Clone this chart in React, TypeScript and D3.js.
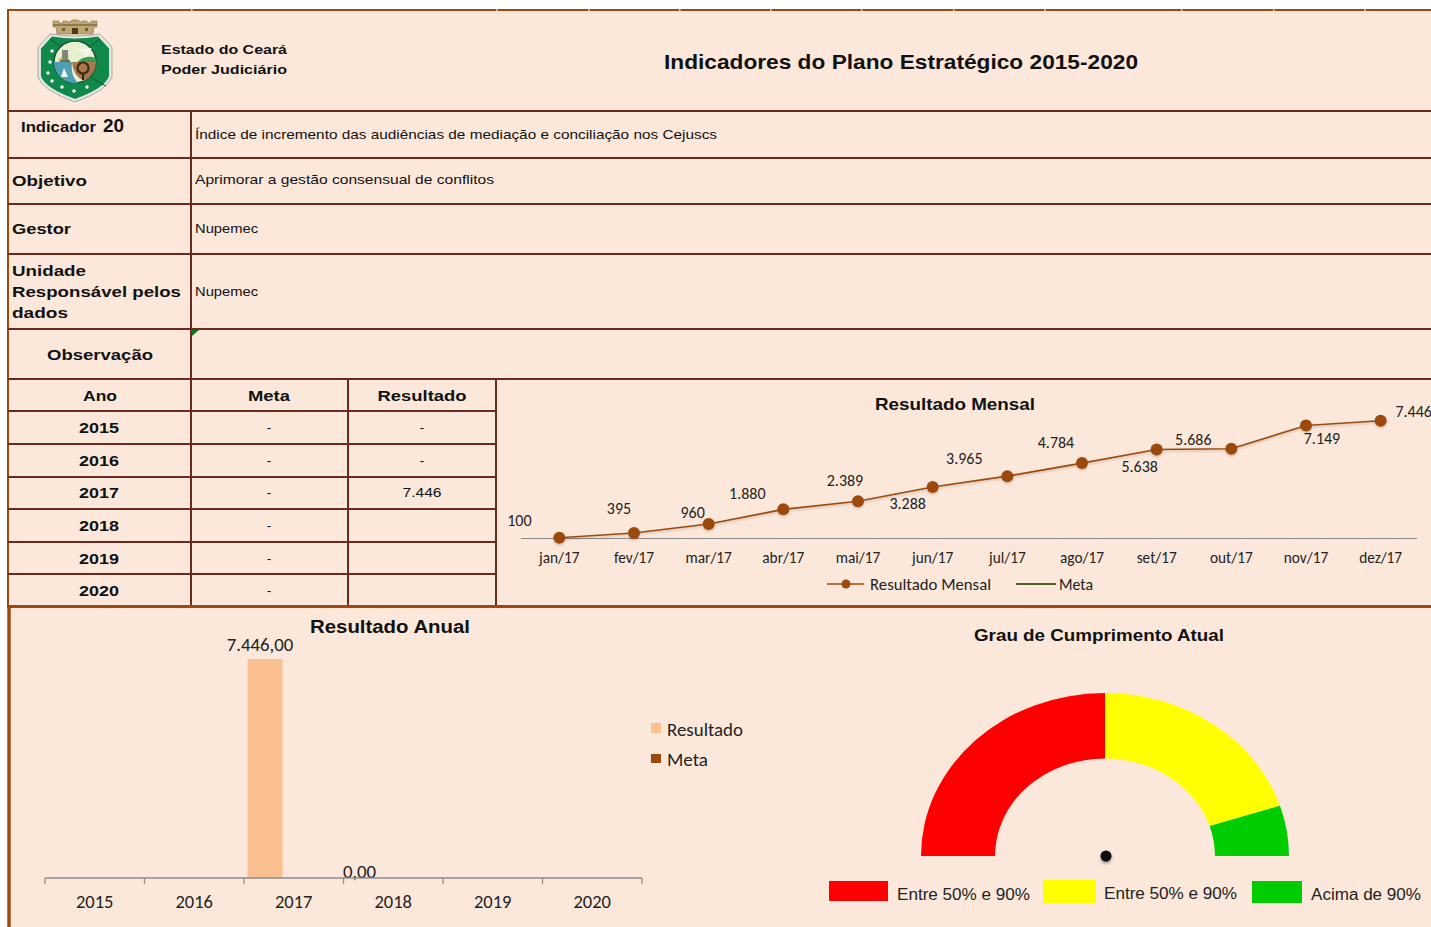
import React from "react";
import * as d3 from "d3";

const months = ["jan/17","fev/17","mar/17","abr/17","mai/17","jun/17","jul/17","ago/17","set/17","out/17","nov/17","dez/17"];
const monthlyValues = [100,395,960,1880,2389,3288,3965,4784,5638,5686,7149,7446];
const monthlyLabels = ["100","395","960","1.880","2.389","3.288","3.965","4.784","5.638","5.686","7.149","7.446"];
const years = ["2015","2016","2017","2018","2019","2020"];
const annualResult: (number|null)[] = [null,null,7446,0,null,null];
const annualLabels = ["","","7.446,00","0,00","",""];
const tableMeta = ["-","-","-","-","-","-"];
const tableResult = ["-","-","7.446","","",""];
const gaugeValues = [50,40,10];
const gaugeColors = ["#ff0000","#ffff00","#00cc00"];
const gaugeLegend = ["Entre 50% e 90%","Entre 50% e 90%","Acima de 90%"];

const BG = "#fce8da", LINE = "#6b2a20", BROWN = "#9c4a0c", ORANGE = "#fac090";
const ARIAL = "'Liberation Sans', Arial, sans-serif";
const LATO = "Carlito, Lato, sans-serif";

const T = ({x,y,s=14,b=false,a="start",f=ARIAL,c="#111",w,ch}:any)=>(
  <text x={x} y={y+0.3} fontSize={s} fontWeight={b?700:400} textAnchor={a} fontFamily={f} fill={c} dominantBaseline="central"
    {...(w?{textLength:w,lengthAdjust:"spacingAndGlyphs"}:{})}>{ch}</text>
);

const labelOffsets: [number,number][] = [[-40,-18],[-15,-25],[-16,-12],[-36,-16],[-13,-21],[-25,16],[-43,-18],[-26,-21],[-17,17],[-38,-10],[16,13],[33,-10]];
const hLines = [[111,1431],[158,1431],[204,1431],[254,1431],[329,1431],[379,1431]];
const tableLines = [411,444,477,509,542,574];
const topTicks = [191,496,588,679,770,861,953,1044,1181,1273,1364];

function Crest(){
  const shield = "M50,34 Q75,38 100,34 L112,47 L112,77 Q108,90 75,102 Q42,90 38,77 L38,47 Z";
  return <g>
    <path d={shield} fill="#e6e6e3" stroke="#aaa9a4" strokeWidth={1}/>
    <path d={shield} fill="#10894a" transform="translate(75,66) scale(.92) translate(-75,-66)"/>
    <path d="M50,39 L63,48 M100,39 L88,48 M88,76 L106,86" stroke="#0a5a30" strokeWidth={1} fill="none"/>
    <path d="M57,34 L56,27 L53,27 L53,21 L59,21 L59,23 L63,23 L63,21 L68,21 L68,23 L72,20 L78,20 L82,23 L82,21 L87,21 L87,23 L91,23 L91,21 L97,21 L97,27 L94,27 L93,34 Z" fill="#bda873" stroke="#8a7445" strokeWidth={.6}/>
    <rect x={53} y={24} width={44} height={2} fill="#8f7b4a"/>
    <rect x={72} y={28} width={6} height={6} fill="#4a3a22"/>
    <rect x={62} y={28} width={3} height={3} fill="#6f5d35"/>
    <rect x={85} y={28} width={3} height={3} fill="#6f5d35"/>
    <circle cx={75} cy={62} r={21} fill="#e6efcf" stroke="#14503a" strokeWidth={1.4}/>
    <path d="M77,62 Q86,54 95.5,58 Q96,60 96,62 Z" fill="#3f9a54"/>
    <circle cx={64} cy={62} r={6} fill="#f5c542"/>
    <path d="M54,62 L72,62 Q70,75 78,83 A21,21 0 0 1 54,62 Z" fill="#4f9fb2"/>
    <path d="M72,62 L96,62 A21,21 0 0 1 84,81 Q73,76 72,62 Z" fill="#a9774f"/>
    <circle cx={83} cy={68} r={5.5} fill="none" stroke="#3d2a18" strokeWidth={2.2}/>
    <rect x={82} y={73} width={2} height={7} fill="#3d2a18"/>
    <path d="M61,77 L64,68 L68,77 Z" fill="#f4f4ee"/>
    <rect x={62} y={50} width={6} height={12} fill="#85857a"/>
    <rect x={60} y={60} width={10} height={2} fill="#6b6b60"/>
    <path d="M77,50 L92,48 L85,58 L84,53 Z" fill="#f6f6f6"/>
    {[[52,51],[50,62],[48,73],[52,81],[62,87],[74,91],[87,87]].map(([x,y],i)=><circle key={i} cx={x} cy={y} r={1.7} fill="#fff"/>)}
  </g>;
}

export default function App(){
  const xM = d3.scaleBand<string>().domain(months).range([522,1418]);
  const yM = d3.scaleLinear().domain([0,8000]).range([539.3,411.9]);
  const cx = (m:string)=> xM(m)!+xM.bandwidth()/2;
  const line = d3.line<number>().x((_,i)=>cx(months[i])).y(d=>yM(d));

  const xY = d3.scaleBand<string>().domain(years).range([45,642]);
  const yY = d3.scaleLinear().domain([0,7446]).range([878,659]);
  const barW = 35;

  const pie = d3.pie<number>().sort(null).startAngle(-Math.PI/2).endAngle(Math.PI/2);
  const arc = d3.arc<d3.PieArcDatum<number>>().innerRadius(110).outerRadius(184);
  const rows = [395,427,460,492,525,558,590];

  return (
  <svg width={1431} height={927} style={{position:"absolute",left:0,top:0,background:"#fff"}}>
    <defs><filter id="sh" x="-50%" y="-50%" width="200%" height="200%"><feDropShadow dx="0" dy="2" stdDeviation="1.5" floodColor="#000" floodOpacity=".35"/></filter>
    <filter id="ls" x="-5%" y="-20%" width="110%" height="160%"><feDropShadow dx="0" dy="1.5" stdDeviation="1" floodColor="#000" floodOpacity=".2"/></filter></defs>
    <rect x={8} y={10} width={1423} height={917} fill={BG}/>
    <line x1={7} x2={1431} y1={10} y2={10} stroke={BROWN} strokeWidth={2}/>
    {topTicks.map(x=><rect key={x} x={x} y={9} width={1.5} height={2} fill="#cfc7c0"/>)}
    <line x1={8} x2={8} y1={10} y2={606} stroke={BROWN} strokeWidth={2}/>
    <line x1={9} x2={9} y1={606} y2={927} stroke={BROWN} strokeWidth={3.4}/>
    {hLines.map(([y,x2])=><line key={y} x1={8} x2={x2} y1={y} y2={y} stroke={LINE} strokeWidth={2}/>)}
    {tableLines.map(y=><line key={y} x1={8} x2={496} y1={y} y2={y} stroke={LINE} strokeWidth={2}/>)}
    <line x1={191} x2={191} y1={111} y2={606} stroke={LINE} strokeWidth={2}/>
    <line x1={348} x2={348} y1={379} y2={606} stroke={LINE} strokeWidth={2}/>
    <line x1={496} x2={496} y1={379} y2={606} stroke={LINE} strokeWidth={2}/>
    <line x1={7} x2={1431} y1={606.5} y2={606.5} stroke={BROWN} strokeWidth={3}/>
    <path d="M191,330 L199,330 L192,336 Z" fill="#0a7a1e"/>

    <Crest/>
    <T x={161} y={49} s={13.5} b w={126} ch="Estado do Ceará"/>
    <T x={161} y={69} s={13.5} b w={126} ch="Poder Judiciário"/>
    <T x={901} y={61} s={21} b a="middle" w={474} ch="Indicadores do Plano Estratégico 2015-2020"/>

    <T x={21} y={126} s={15} b w={75} ch="Indicador"/>
    <T x={103} y={126} s={17.5} b w={21} ch="20"/>
    <T x={12} y={180} s={15.5} b w={75} ch="Objetivo"/>
    <T x={12} y={228} s={15.5} b w={59} ch="Gestor"/>
    <T x={12} y={270} s={15.5} b w={74} ch="Unidade"/>
    <T x={12} y={291} s={15.5} b w={169} ch="Responsável pelos"/>
    <T x={12} y={312} s={15.5} b w={56} ch="dados"/>
    <T x={100} y={354} s={15.5} b a="middle" w={106} ch="Observação"/>
    <T x={195} y={134} s={13.5} w={522} ch="Índice de incremento das audiências de mediação e conciliação nos Cejuscs"/>
    <T x={195} y={179} s={13.5} w={299} ch="Aprimorar a gestão consensual de conflitos"/>
    <T x={195} y={228} s={13.5} w={63} ch="Nupemec"/>
    <T x={195} y={291} s={13.5} w={63} ch="Nupemec"/>

    <T x={100} y={rows[0]} s={15.5} b a="middle" w={34} ch="Ano"/>
    <T x={269} y={rows[0]} s={15.5} b a="middle" w={42} ch="Meta"/>
    <T x={422} y={rows[0]} s={15.5} b a="middle" w={89} ch="Resultado"/>
    {years.map((yr,i)=><g key={yr}>
      <T x={99} y={rows[i+1]} s={15.5} b a="middle" w={40} ch={yr}/>
      <T x={269} y={rows[i+1]} s={13.5} a="middle" ch={tableMeta[i]}/>
      <T x={422} y={rows[i+1]} s={13.5} a="middle" w={tableResult[i].length>1?39:0} ch={tableResult[i]}/>
    </g>)}

    <T x={955} y={404} s={16.5} b a="middle" w={160} ch="Resultado Mensal"/>
    <line x1={521} x2={1417} y1={538.5} y2={538.5} stroke="#8c8c8c" strokeWidth={1.2}/>
    <g filter="url(#ls)">
      <path d={line(monthlyValues)!} fill="none" stroke={BROWN} strokeWidth={1.6}/>
      {monthlyValues.map((v,i)=><circle key={i} cx={cx(months[i])} cy={yM(v)} r={6} fill={BROWN}/>)}
    </g>
    {monthlyValues.map((v,i)=><T key={i} x={cx(months[i])+labelOffsets[i][0]} y={yM(v)+labelOffsets[i][1]} s={16} f={LATO} a="middle" c="#222" ch={monthlyLabels[i]}/>)}
    {months.map(m=><T key={m} x={cx(m)} y={557} s={15.3} f={LATO} a="middle" c="#222" ch={m}/>)}
    <line x1={827} x2={864} y1={584} y2={584} stroke={BROWN} strokeWidth={1.4}/>
    <circle cx={846} cy={584} r={4.5} fill={BROWN}/>
    <T x={870} y={584} s={16} f={LATO} c="#222" w={121} ch="Resultado Mensal"/>
    <line x1={1016} x2={1056} y1={584} y2={584} stroke="#4f6228" strokeWidth={2}/>
    <T x={1059} y={584} s={16} f={LATO} c="#222" w={34} ch="Meta"/>

    <T x={390} y={627} s={17.5} b a="middle" w={160} ch="Resultado Anual"/>
    {years.map((yr,i)=>{const v=annualResult[i]; if(v===null) return null;
      const bx=xY(yr)!+3.5;
      return <g key={yr}>
        <rect x={bx} y={yY(v)} width={barW} height={yY(0)-yY(v)} fill={ORANGE}/>
        <T x={bx+barW/2-5} y={yY(v)-(v>0?15:7)} s={18.8} f={LATO} a="middle" c="#222" ch={annualLabels[i]}/>
      </g>;})}
    <line x1={45} x2={642} y1={878} y2={878} stroke="#8c8c8c" strokeWidth={1.3}/>
    {[...years.map(y=>xY(y)!),642].map(x=><line key={x} x1={x} x2={x} y1={878} y2={884} stroke="#8c8c8c" strokeWidth={1.3}/>)}
    {years.map(y=><T key={y} x={xY(y)!+xY.bandwidth()/2} y={901.5} s={18.5} f={LATO} a="middle" c="#222" ch={y}/>)}
    <rect x={651} y={723} width={10} height={10} fill={ORANGE}/>
    <T x={667} y={730} s={18} f={LATO} c="#222" w={76} ch="Resultado"/>
    <rect x={651} y={754} width={10} height={9} fill={BROWN}/>
    <T x={667} y={760} s={18} f={LATO} c="#222" w={41} ch="Meta"/>

    <T x={1099} y={635} s={17} b a="middle" w={250} ch="Grau de Cumprimento Atual"/>
    <g transform={`translate(1105,856) scale(1,${163/184})`}>
      {pie(gaugeValues).map((d,i)=><path key={i} d={arc(d)!} fill={gaugeColors[i]}/>)}
    </g>
    <circle cx={1106} cy={856} r={5.5} fill="#0a0a0a" filter="url(#sh)"/>
    <rect x={829} y={881} width={59} height={20} fill={gaugeColors[0]}/>
    <rect x={1043} y={880} width={53} height={23} fill={gaugeColors[1]}/>
    <rect x={1252} y={881} width={50} height={22} fill={gaugeColors[2]}/>
    <T x={897} y={894} s={16} c="#222" w={133} ch={gaugeLegend[0]}/>
    <T x={1104} y={893} s={16} c="#222" w={133} ch={gaugeLegend[1]}/>
    <T x={1311} y={894} s={16} c="#222" w={110} ch={gaugeLegend[2]}/>
  </svg>);
}
